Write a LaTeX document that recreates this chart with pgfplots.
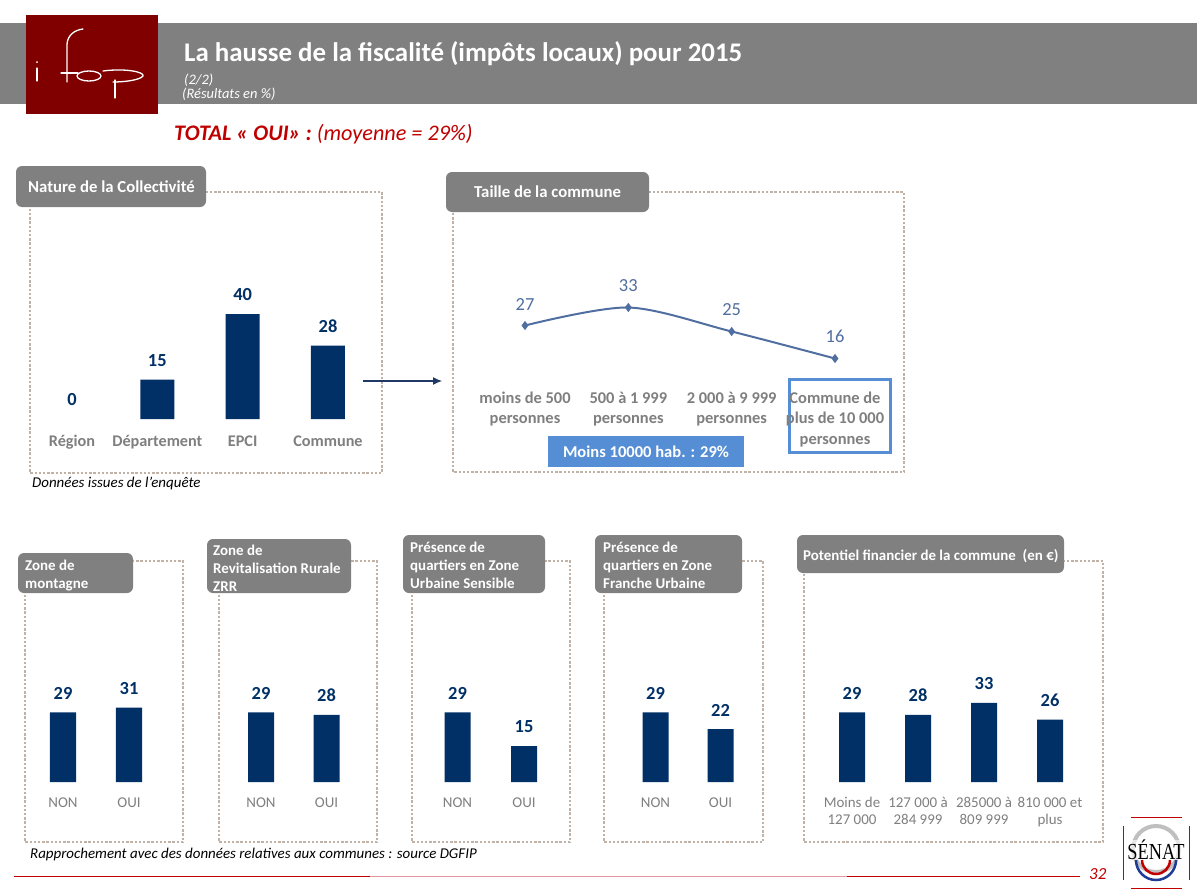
\documentclass[border=0pt]{standalone}
\usepackage{fontspec}
\setmainfont{Carlito}
\newfontfamily\serif{Liberation Serif}
\usepackage{pgfplots}
\pgfplotsset{compat=1.18}
\usetikzlibrary{arrows.meta}
\definecolor{navy}{RGB}{0,48,102}
\definecolor{band}{RGB}{128,128,128}
\definecolor{logored}{RGB}{128,0,0}
\definecolor{dotc}{RGB}{192,178,166}
\definecolor{lblgray}{RGB}{127,127,127}
\definecolor{steel}{RGB}{80,110,160}
\definecolor{hlblue}{RGB}{85,142,213}
\definecolor{titlered}{RGB}{192,0,0}
\definecolor{arrowc}{RGB}{31,56,100}
\definecolor{pinkline}{RGB}{228,150,160}
\definecolor{senatblue}{RGB}{30,60,150}
\newcommand{\fs}[2]{\fontsize{#1}{#2}\selectfont}
\pgfplotsset{
  base/.style={
    scale only axis, clip=false,
    axis line style={draw=none}, tick style={draw=none},
    ytick=\empty, xtick=data,
    /pgf/number format/assume math mode=true,
    xmin=-0.5, ymin=0, anchor=south west,
  },
  barax/.style={base, ybar, bar width=#1,
    nodes near coords,
    every node near coord/.append style={font=\bfseries\fs{18.5}{18.5}, text=navy, anchor=south, inner sep=0pt, yshift=13bp},
  },
  botlab/.style={xticklabel style={font=\fs{15}{17.5}, text=lblgray, anchor=north, inner sep=0pt, yshift=-8.4bp, align=center}},
}
\begin{document}
\begin{tikzpicture}
\begin{scope}[x=1bp,y=-1bp]
\useasboundingbox[fill=white] (0,0) rectangle (1197,896);
% header
\fill[band] (0,23) rectangle (1197,104);
\fill[logored] (26,15) rectangle (158,114);
\begin{scope}[white, line width=1.3bp, line cap=round]
\fill (37,62) circle (1bp);
\draw (37,68) -- (37,81);
\draw (67,82) -- (67,45) .. controls (67,36) and (74,30) .. (83,29);
\draw (61,73) -- (78,73);
\draw (89,76) ellipse [x radius=12, y radius=5];
\draw (103,71) .. controls (125,68) and (145,72) .. (143,76) .. controls (140,80) and (125,82) .. (113,82);
\draw (115,80) -- (115,98);
\end{scope}
\node[anchor=base west, text=white, font=\bfseries\fs{27}{27}, inner sep=0] at (184,61) {La hausse de la fiscalité (impôts locaux) pour 2015};
\node[anchor=base west, text=white, font=\itshape\fs{14.5}{14.5}, inner sep=0] at (184,84) {(2/2)};
\node[anchor=base west, text=white, font=\itshape\fs{14.5}{14.5}, inner sep=0] at (182,98.5) {(Résultats en \%)};
\node[anchor=base west, text=titlered, font=\fs{22.3}{22.3}, inner sep=0] at (174,140) {\bfseries\itshape TOTAL « OUI» : \mdseries(moyenne = 29\%)};
% dotted boxes
\begin{scope}[draw=dotc, line width=2.4bp, dash pattern=on 2.4bp off 1.8bp]
\draw (30,192) rectangle (382,473);
\draw (453,192) rectangle (904,472);
\draw (25,561) rectangle (183,842);
\draw (219,561) rectangle (377,842);
\draw (412,561) rectangle (570,842);
\draw (604,561) rectangle (763,842);
\draw (804,561) rectangle (1103,842);
\end{scope}
% label boxes
\begin{scope}[fill=band, rounded corners=6bp]
\fill (16,166) rectangle (206,207);
\fill (446,172) rectangle (649,212);
\fill (18,553) rectangle (133,593);
\fill (207,539) rectangle (351,593);
\fill (403,535) rectangle (545,593);
\fill (595,535) rectangle (742,593);
\fill (797,535) rectangle (1064,573);
\end{scope}
\begin{scope}[every node/.style={anchor=base west, text=white, inner sep=0, font=\bfseries\fs{16.8}{16.8}}]
\node at (28,192.5) {Nature de la Collectivité};
\node at (474,197.5) {Taille de la commune};
\end{scope}
\begin{scope}[every node/.style={anchor=base west, text=white, inner sep=0, font=\bfseries\fs{15}{15}}]
\node at (25,570) {Zone de};
\node at (25,588) {montagne};
\node at (213,555) {Zone de};
\node at (213,573) {Revitalisation Rurale};
\node at (213,591) {ZRR};
\node at (410,552) {Présence de};
\node at (410,570) {quartiers en Zone};
\node at (410,588) {Urbaine Sensible};
\node at (603,552) {Présence de};
\node at (603,570) {quartiers en Zone};
\node at (603,588) {Franche Urbaine};
\node at (803,560) {Potentiel financier de la commune\ \ (en €)};
\end{scope}
% arrow
\draw[arrowc, line width=1.2bp, -{Latex[length=9bp,width=8bp]}] (363,381) -- (442,381);
% highlight boxes
\fill[hlblue] (548,436) rectangle (744,467);
\node[text=white, font=\bfseries\fs{16.6}{16.6}, inner sep=0, anchor=base] at (646,457) {Moins 10000 hab. : 29\%};
\draw[hlblue, line width=3bp] (789,379.5) rectangle (890,452);
% footnotes
\node[anchor=base west, inner sep=0, font=\itshape\fs{15}{15}] at (32,487) {Données issues de l’enquête};
\node[anchor=base west, inner sep=0, font=\itshape\fs{15}{15}] at (30,858.5) {Rapprochement avec des données relatives aux communes : source DGFIP};
% footer line
\draw[titlered, line width=1bp] (14,876) -- (370,876);
\draw[pinkline, line width=1bp] (370,876) -- (847,876);
\draw[titlered, line width=1bp] (847,876) -- (1080,876);
\node[anchor=base west, inner sep=0, text=titlered, font=\itshape\fs{17}{17}] at (1089,879) {32};
% Senat logo
\draw[titlered, line width=1bp] (1131,817) -- (1182,817);
\draw[titlered, line width=1bp] (1131,888) -- (1182,888);
\draw[senatblue, line width=1bp] (1123,826) -- (1123,880);
\draw[senatblue, line width=1bp] (1189,826) -- (1189,880);
\draw[black!25, line width=4bp] (1156,849) circle (23);
\draw[senatblue, line width=2.5bp] (1136,860) arc[start angle=180, end angle=0, radius=20];
\draw[titlered, line width=2.5bp] (1142,860) arc[start angle=180, end angle=0, radius=14];
\node[font=\serif\fs{23}{23}, xscale=0.8, inner sep=0, fill=white, fill opacity=0.6, text opacity=1] at (1156,850) {SÉNAT};
\end{scope}

% ---------- top-left bars
\begin{axis}[barax=34bp, at={(29.33bp,-419bp)}, width=341.33bp, height=104.8bp, xmax=3.5, ymax=40,
  xtick={0,1,2,3},
  xticklabels={{\strut Région},{\strut Département},{\strut EPCI},{\strut Commune}},
  xticklabel style={font=\bfseries\fs{16.3}{20}, text=lblgray, anchor=north, inner sep=0pt, yshift=-9bp}]
\addplot[fill=none, draw=none, bar shift=0pt] coordinates {(0,0)};
\addplot[fill=navy, draw=none, bar shift=0pt] coordinates {(1,15) (2,40) (3,28)};
\end{axis}

% ---------- top-right line
\begin{axis}[base, at={(473.33bp,-385.5bp)}, width=413.33bp, height=99bp, xmax=3.5, ymin=7, ymax=40,
  nodes near coords,
  every node near coord/.append style={font=\fs{18.5}{18.5}, text=steel, anchor=south, inner sep=0pt, yshift=14.5bp},
  xticklabels={{\strut moins de 500\\personnes},{\strut 500 à 1 999\\personnes},{\strut 2 000 à 9 999\\personnes},{\strut Commune de\\plus de 10 000\\personnes}},
  xticklabel style={align=center, font=\bfseries\fs{16.5}{20.5}, text=lblgray, anchor=north, inner sep=0pt, yshift=-3.5bp}]
\addplot[steel, line width=2pt, smooth, mark=diamond*, mark size=3pt, mark options={solid}] coordinates {(0,27) (1,33) (2,25) (3,16)};
\end{axis}

% ---------- bottom panels
\begin{axis}[barax=26bp, botlab, at={(30bp,-782bp)}, width=132bp, height=84bp, xmax=1.5, ymax=35,
  xticklabels={{\strut NON},{\strut OUI}}]
\addplot[fill=navy, draw=none] coordinates {(0,29) (1,31)};
\end{axis}
\begin{axis}[barax=26bp, botlab, at={(228.25bp,-782bp)}, width=131bp, height=84bp, xmax=1.5, ymax=35,
  xticklabels={{\strut NON},{\strut OUI}}]
\addplot[fill=navy, draw=none] coordinates {(0,29) (1,28)};
\end{axis}
\begin{axis}[barax=26bp, botlab, at={(424.25bp,-782bp)}, width=133bp, height=84bp, xmax=1.5, ymax=35,
  xticklabels={{\strut NON},{\strut OUI}}]
\addplot[fill=navy, draw=none] coordinates {(0,29) (1,15)};
\end{axis}
\begin{axis}[barax=26bp, botlab, at={(623bp,-782bp)}, width=130bp, height=84bp, xmax=1.5, ymax=35,
  xticklabels={{\strut NON},{\strut OUI}}]
\addplot[fill=navy, draw=none] coordinates {(0,29) (1,22)};
\end{axis}
\begin{axis}[barax=26bp, botlab, at={(819bp,-782bp)}, width=264bp, height=84bp, xmax=3.5, ymax=35,
  xticklabels={{\strut Moins de\\127 000},{\strut 127 000 à\\284 999},{\strut 285000 à\\809 999},{\strut 810 000 et\\plus}}]
\addplot[fill=navy, draw=none] coordinates {(0,29) (1,28) (2,33) (3,26)};
\end{axis}
\end{tikzpicture}
\end{document}
